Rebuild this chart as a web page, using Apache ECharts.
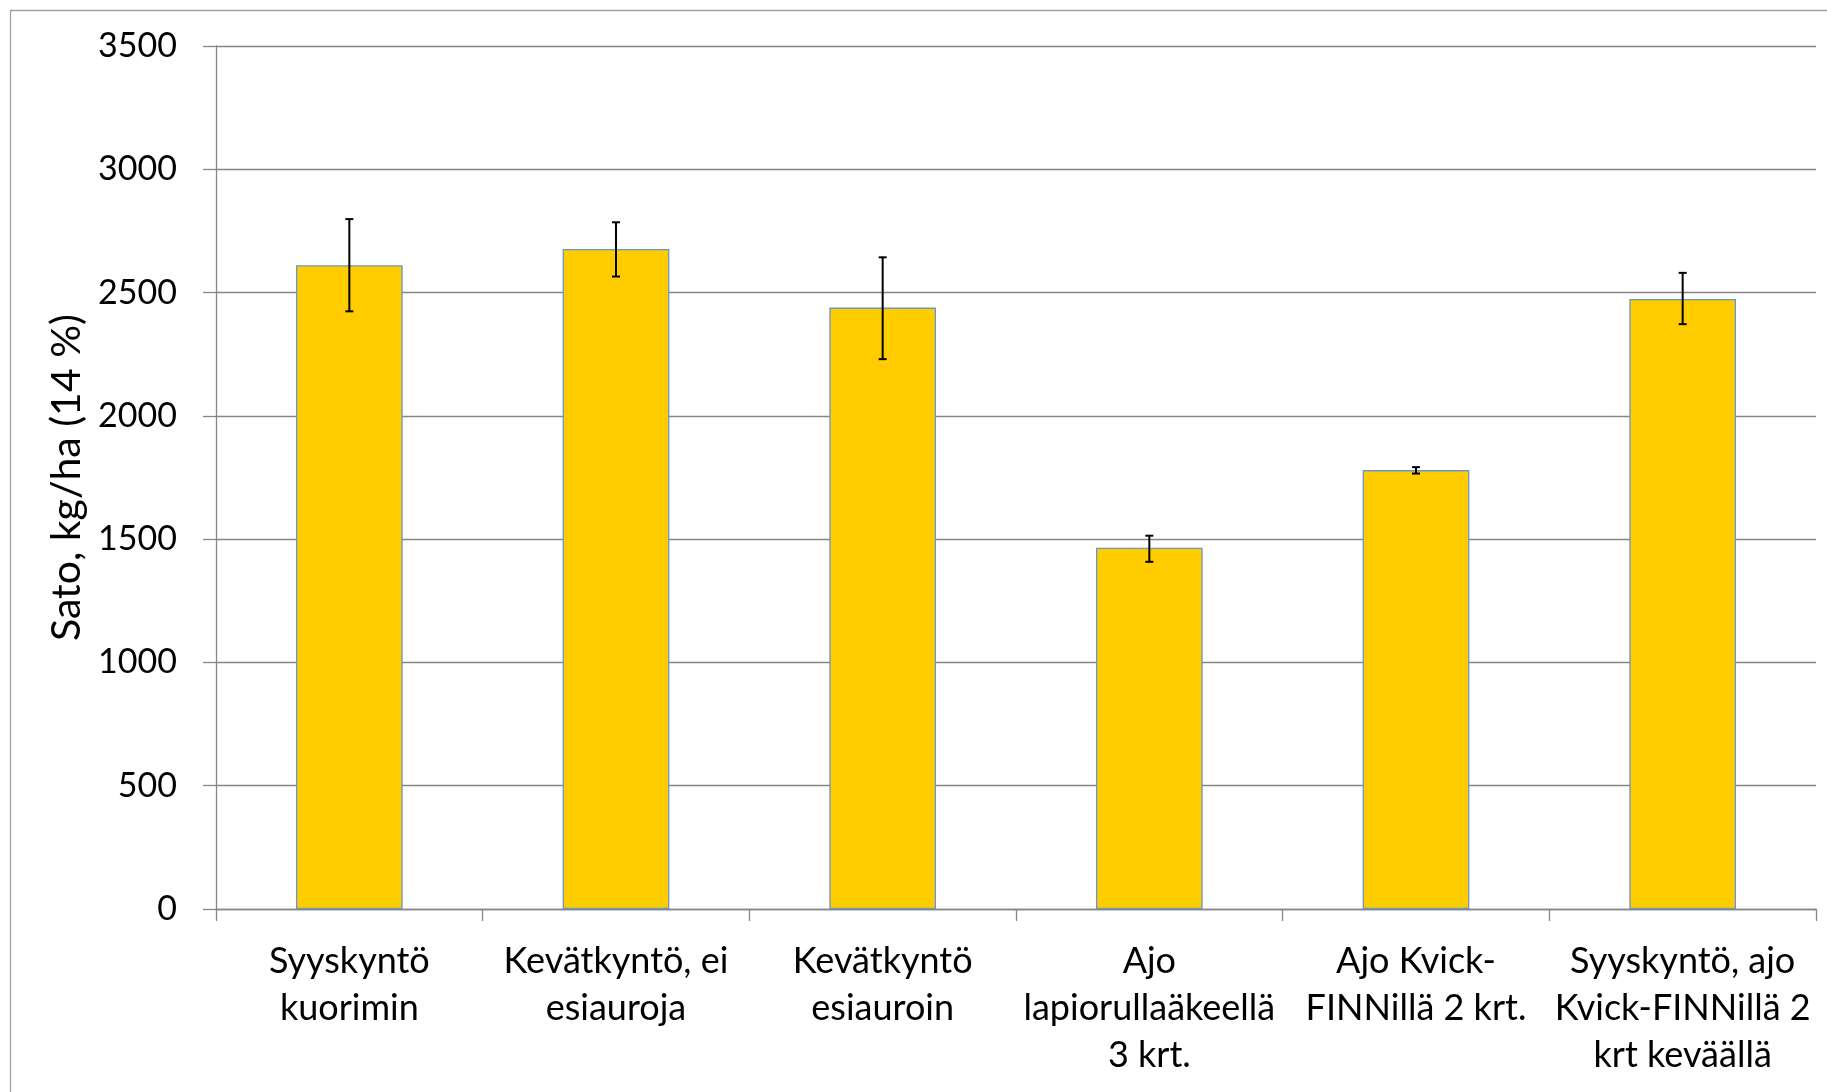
<!DOCTYPE html>
<html>
<head>
<meta charset="utf-8">
<script src="https://cdn.jsdelivr.net/npm/echarts@6/dist/echarts.min.js"></script>
<style>
html,body{margin:0;padding:0;background:#fff;}
#c{width:1827px;height:1092px;}
</style>
</head>
<body>
<div id="c"></div>
<script>
const categories = [
  "Syyskyntö\nkuorimin",
  "Kevätkyntö, ei\nesiauroja",
  "Kevätkyntö\nesiauroin",
  "Ajo\nlapiorullaäkeellä\n3 krt.",
  "Ajo Kvick-\nFINNillä 2 krt.",
  "Syyskyntö, ajo\nKvick-FINNillä 2\nkrt keväällä"
];
const yieldValues = [2611, 2677, 2439, 1465, 1780, 2474];
const errorLow  = [2424, 2565, 2230, 1408, 1766, 2372];
const errorHigh = [2798, 2785, 2643, 1514, 1792, 2580];
const yTicks = { min: 0, max: 3500, interval: 500 };
const yAxisTitle = "Sato, kg/ha (14 %)";

const FONT = "Lato";
const chart = echarts.init(document.getElementById('c'), null, {renderer: 'canvas'});

const errData = categories.map((c, i) => [i, errorLow[i], errorHigh[i]]);

const option = {
  animation: false,
  backgroundColor: '#ffffff',
  graphic: [{
    type: 'rect',
    shape: {x: 10.5, y: 10.5, width: 1840, height: 1100},
    style: {fill: 'none', stroke: '#a0a0a0', lineWidth: 1.3},
    silent: true
  }],
  grid: {left: 216, top: 46, right: 11, bottom: 183, containLabel: false},
  xAxis: {
    type: 'category',
    data: categories,
    axisLine: {show: true, lineStyle: {color: '#868686', width: 1.3}},
    axisTick: {show: true, alignWithLabel: false, length: 12, lineStyle: {color: '#868686', width: 1.3}},
    axisLabel: {
      interval: 0, margin: 29, color: '#000', fontFamily: FONT, fontSize: 36, lineHeight: 47, align: 'center'
    },
    splitLine: {show: false}
  },
  yAxis: {
    type: 'value',
    min: yTicks.min, max: yTicks.max, interval: yTicks.interval,
    name: yAxisTitle,
    nameLocation: 'middle',
    nameGap: 115,
    nameRotate: 90,
    nameTextStyle: {color: '#000', fontFamily: FONT, fontSize: 41},
    axisLine: {show: true, lineStyle: {color: '#868686', width: 1.3}},
    axisTick: {show: true, length: 13, lineStyle: {color: '#868686', width: 1.3}},
    axisLabel: {margin: 39, color: '#000', fontFamily: FONT, fontSize: 34, formatter: function (v) { return String(v); }},
    splitLine: {show: true, lineStyle: {color: '#868686', width: 1.3}}
  },
  series: [
    {
      type: 'bar',
      data: yieldValues,
      barWidth: '40%',
      itemStyle: {color: '#FFCC00', borderColor: '#6A96CF', borderWidth: 1.3},
      z: 2
    },
    {
      type: 'custom',
      data: errData,
      z: 5,
      renderItem: function (params, api) {
        const x = api.value(0);
        const lo = api.coord([x, api.value(1)]);
        const hi = api.coord([x, api.value(2)]);
        const half = 4;
        const st = {stroke: '#000', lineWidth: 2};
        return {
          type: 'group',
          children: [
            {type: 'line', shape: {x1: hi[0], y1: hi[1], x2: lo[0], y2: lo[1]}, style: st},
            {type: 'line', shape: {x1: hi[0] - half, y1: hi[1], x2: hi[0] + half, y2: hi[1]}, style: st},
            {type: 'line', shape: {x1: lo[0] - half, y1: lo[1], x2: lo[0] + half, y2: lo[1]}, style: st}
          ]
        };
      }
    }
  ]
};
chart.setOption(option);
</script>
</body>
</html>
